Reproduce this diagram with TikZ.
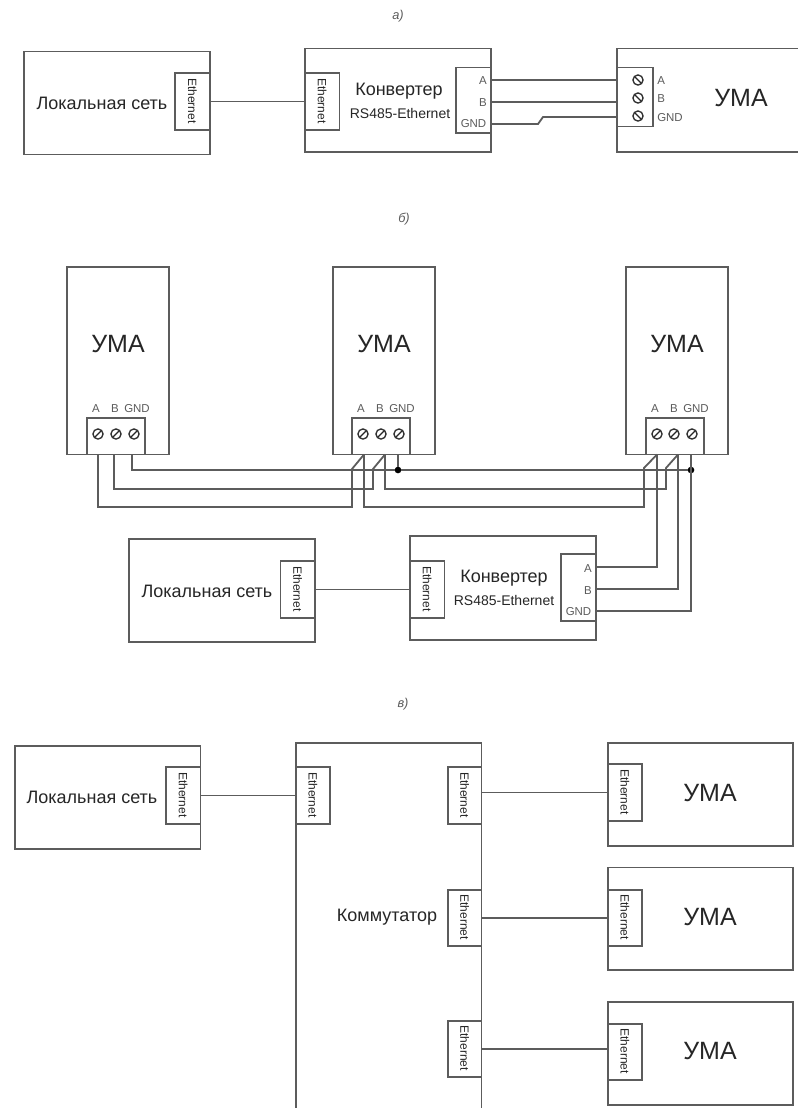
\documentclass[tikz,border=0pt]{standalone}
\usepackage{fontspec}
\usepackage{graphicx}
\setmainfont{Liberation Sans}
\definecolor{ln}{HTML}{5C5C5C}
\definecolor{tx}{HTML}{262626}
\newcommand{\fs}[1]{\fontsize{#1}{#1}\selectfont}
\tikzset{
  boxn/.style={draw=ln,line width=1.35pt,fill=white,inner sep=0pt,outer sep=0pt,text=tx,align=center},
  wire/.style={draw=ln,line width=1.35pt,line join=miter},
  bigtxt/.style={text=tx,inner sep=0pt,font=\fs{18.75pt}},
  midtxt/.style={text=tx,inner sep=0pt,font=\fs{13.5pt}},
  rstxt/.style={text=tx,inner sep=0pt,font=\fs{10.5pt}},
  smalltxt/.style={text=ln,inner sep=0pt,font=\fs{8.6pt}},
  captxt/.style={text=ln,inner sep=0pt,font=\itshape\fs{9.6pt}},
  screwbase/.style={circle,draw=tx!80!ln,line width=1pt,minimum size=7.6pt,inner sep=0pt,outer sep=0pt},
  screwa/.style={screwbase,path picture={\draw[tx,line width=1pt] (path picture bounding box.north west) -- (path picture bounding box.south east);}},
  screwb/.style={screwbase,path picture={\draw[tx,line width=1pt] (path picture bounding box.south west) -- (path picture bounding box.north east);}},
  dotn/.style={circle,fill=black,minimum size=5pt,inner sep=0pt,outer sep=0pt},
}
% name, x1, y1, x2, y2, content
\newcommand{\bx}[6]{%
  \pgfmathsetmacro{\cxx}{(#2+#4)/2}\pgfmathsetmacro{\cyy}{(#3+#5)/2}%
  \pgfmathsetmacro{\ww}{(#4-#2)*0.75}\pgfmathsetmacro{\hh}{(#5-#3)*0.75}%
  \node[boxn,minimum width=\ww pt,minimum height=\hh pt] (#1) at (\cxx,\cyy) {#6};}
\newcommand{\ethl}{\rotatebox{-90}{\fs{9pt}Ethernet\hspace{1.1pt}}}
\begin{document}
\begin{tikzpicture}[x=0.75pt,y=-0.75pt]
\useasboundingbox (0,0) rectangle (798,1108);
\clip (0,0) rectangle (798,1108);
\fill[white] (0,0) rectangle (798,1108);

% ---------- a ----------
\node[captxt] (capa) at (398,16) {а)};
\bx{al}{24}{51.5}{210}{154.5}{}
\bx{ale}{175}{73}{210}{130}{\ethl}
\node[midtxt] (altx) at (102,103) {Локальная сеть};
\bx{ac}{305}{48.5}{491}{152}{}
\bx{ace}{305}{73}{339.5}{130}{\ethl}
\bx{act}{456}{67.5}{491}{133}{}
\node[midtxt] (actx) at (399,91) {Конвертер};
\node[rstxt] (acrs) at (400,113) {RS485-Ethernet};
\node[smalltxt,anchor=east] (acA) at (487,80.5) {A};
\node[smalltxt,anchor=east] (acB) at (487,102.5) {B};
\node[smalltxt,anchor=east] (acG) at (486.5,124) {GND};
\bx{au}{617}{48.5}{810}{152}{}
\bx{aut}{617}{67.5}{653}{126.5}{}
\node[screwa] (as1) at (638,80) {};
\node[screwa] (as2) at (638,98) {};
\node[screwa] (as3) at (638,116) {};
\node[smalltxt,anchor=west] (auA) at (657,80.5) {A};
\node[smalltxt,anchor=west] (auB) at (657,99) {B};
\node[smalltxt,anchor=west] (auG) at (657,118) {GND};
\node[bigtxt] (autx) at (741,98) {УМА};
\draw[wire] (ale.east) -- (ace.west);
\coordinate (aA) at (491,80); \coordinate (aB) at (491,102); \coordinate (aG) at (491,124);
\draw[wire] (aA) -- (aut.west |- aA);
\draw[wire] (aB) -- (aut.west |- aB);
\draw[wire] (aG) -- (538,124) -- (543,117) -- (aut.west |- 0,117);

% ---------- b ----------
\node[captxt] (capb) at (404,219) {б)};
\bx{u1}{67}{267}{169}{454.5}{}
\bx{u2}{333}{267}{435}{454.5}{}
\bx{u3}{626}{267}{728}{454.5}{}
\bx{t1}{87}{418}{145}{454.5}{}
\bx{t2}{352}{418}{410}{454.5}{}
\bx{t3}{646}{418}{704}{454.5}{}
\node[bigtxt] (u1x) at (118,344) {УМА};
\node[bigtxt] (u2x) at (384,344) {УМА};
\node[bigtxt] (u3x) at (677,344) {УМА};
\node[screwb] (s11) at (98,434) {};
\node[screwb] (s12) at (116,434) {};
\node[screwb] (s13) at (134,434) {};
\node[screwb] (s21) at (363,434) {};
\node[screwb] (s22) at (381,434) {};
\node[screwb] (s23) at (399,434) {};
\node[screwb] (s31) at (657,434) {};
\node[screwb] (s32) at (674,434) {};
\node[screwb] (s33) at (692,434) {};
\node[smalltxt] (l11) at (96,408.5) {A};
\node[smalltxt] (l12) at (115,408.5) {B};
\node[smalltxt] (l13) at (137,408.5) {GND};
\node[smalltxt] (l21) at (361,408.5) {A};
\node[smalltxt] (l22) at (380,408.5) {B};
\node[smalltxt] (l23) at (402,408.5) {GND};
\node[smalltxt] (l31) at (655,408.5) {A};
\node[smalltxt] (l32) at (674,408.5) {B};
\node[smalltxt] (l33) at (696,408.5) {GND};
\bx{bl}{129}{539}{315}{642}{}
\bx{ble}{280.5}{561}{315}{618}{\ethl}
\node[midtxt] (blx) at (207,591) {Локальная сеть};
\bx{bc}{410}{536}{596}{640}{}
\bx{bce}{410}{561}{444.5}{618}{\ethl}
\bx{bct}{561}{554}{596}{621}{}
\node[midtxt] (bcx) at (504,578) {Конвертер};
\node[rstxt] (bcrs) at (504,600) {RS485-Ethernet};
\node[smalltxt,anchor=east] (bcA) at (592,568.5) {A};
\node[smalltxt,anchor=east] (bcB) at (592,590.5) {B};
\node[smalltxt,anchor=east] (bcG) at (591.5,612) {GND};
\draw[wire] (ble.east) -- (bce.west);
% pins
\coordinate (pA1) at (98,454.5);  \coordinate (pB1) at (114,454.5); \coordinate (pG1) at (132,454.5);
\coordinate (pA2) at (364,454.5); \coordinate (pB2) at (385,454.5); \coordinate (pG2) at (398,454.5);
\coordinate (pA3) at (657,454.5); \coordinate (pB3) at (678,454.5); \coordinate (pG3) at (691,454.5);
\coordinate (cA) at (596,567); \coordinate (cB) at (596,589); \coordinate (cG) at (596,611);
\node[dotn] (j2) at (398,470) {};
\node[dotn] (j3) at (691,470) {};
\draw[wire] (pG1) -- (132,470) -- (j2) -- (j3);
\draw[wire] (pG2) -- (j2);
\draw[wire] (pB1) -- (114,489) -- (373,489) -- (373,469) -- (pB2);
\draw[wire] (pA1) -- (98,507) -- (352,507) -- (352,469) -- (pA2);
\draw[wire] (pB2) -- (385,489) -- (666,489) -- (666,468) -- (pB3);
\draw[wire] (pA2) -- (364,507) -- (644,507) -- (644,468) -- (pA3);
\draw[wire] (pA3) -- (657,567) -- (cA);
\draw[wire] (pB3) -- (678,589) -- (cB);
\draw[wire] (pG3) -- (691,611) -- (cG);

% ---------- v ----------
\node[captxt] (capc) at (403,704) {в)};
\bx{cl}{15}{746}{200.5}{849}{}
\bx{cle}{166}{767}{200.5}{824}{\ethl}
\node[midtxt] (clx) at (92,797) {Локальная сеть};
\bx{sw}{296}{743}{481.5}{1125}{}
\bx{swl}{296}{767}{330}{824}{\ethl}
\bx{sw1}{448}{767}{481.5}{824}{\ethl}
\bx{sw2}{448}{890}{481.5}{946}{\ethl}
\bx{sw3}{448}{1021}{481.5}{1077}{\ethl}
\node[midtxt] (swx) at (387,917) {Коммутатор};
\bx{v1}{608}{743}{793}{846}{}
\bx{v2}{608}{867.5}{793}{970}{}
\bx{v3}{608}{1002}{793}{1105}{}
\bx{v1e}{608}{764}{642}{821}{\ethl}
\bx{v2e}{608}{890}{642}{946}{\ethl}
\bx{v3e}{608}{1024}{642}{1080}{\ethl}
\node[bigtxt] (v1x) at (710,793) {УМА};
\node[bigtxt] (v2x) at (710,917) {УМА};
\node[bigtxt] (v3x) at (710,1051) {УМА};
\draw[wire] (cle.east) -- (swl.west);
\draw[wire] (sw1.east |- v1e.west) -- (v1e.west);
\draw[wire] (sw2.east) -- (v2e.west);
\draw[wire] (sw3.east) -- (v3e.west |- sw3.east);
\end{tikzpicture}
\end{document}
